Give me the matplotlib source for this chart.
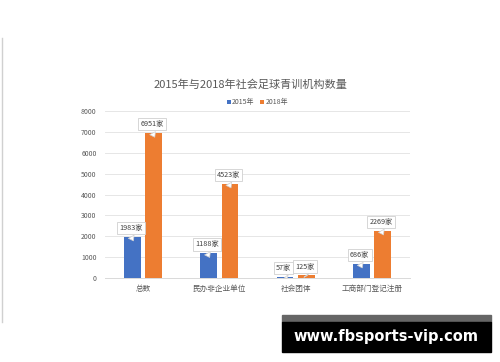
import matplotlib
matplotlib.use("Agg")
import matplotlib.pyplot as plt
from matplotlib.patches import Rectangle
from matplotlib.lines import Line2D

plt.rcParams['font.family'] = ['Noto Sans CJK SC', 'DejaVu Sans']

categories = ["总数", "民办非企业单位", "社会团体", "工商部门登记注册"]
v2015 = [1983, 1188, 57, 686]
v2018 = [6951, 4523, 125, 2269]
series_names = ["2015年", "2018年"]
title = "2015年与2018年社会足球青训机构数量"

blue = "#4472c4"
orange = "#ed7d31"

fig = plt.figure(figsize=(5, 3.62), dpi=100)
ax = fig.add_axes([0.21, 0.232, 0.61, 0.461])

w = 0.22
gap = 0.03
x = list(range(len(categories)))
xb = [i - w / 2 - gap for i in x]
xo = [i + w / 2 + gap for i in x]
ax.bar(xb, v2015, width=w, color=blue, label=series_names[0], zorder=3)
ax.bar(xo, v2018, width=w, color=orange, label=series_names[1], zorder=3)

ax.set_xlim(-0.5, 3.5)
ax.set_ylim(0, 8000)
ax.set_yticks(range(0, 8001, 1000))
ax.set_xticks(x)
ax.set_xticklabels(categories)
ax.tick_params(axis='both', length=0, labelsize=5, colors='#595959')
ax.tick_params(axis='x', pad=5, labelsize=5.5)
ax.tick_params(axis='y', pad=6)
ax.grid(axis='y', color='#e6e6e6', linewidth=0.7, zorder=0)
for s in ['top', 'right', 'left']:
    ax.spines[s].set_visible(False)
ax.spines['bottom'].set_color('#d9d9d9')
ax.spines['bottom'].set_linewidth(0.7)

# callout labels, box just above the bar, pointer tip a little inside the bar
for xs, vals in [(xb, v2015), (xo, v2018)]:
    for xi, v in zip(xs, vals):
        tip = max(v - 320, 0)
        ax.annotate(f"{v}家", xy=(xi + 0.03, tip), xytext=(xi - 0.02, v + 230), textcoords='data',
                    ha='center', va='bottom', fontsize=5.2, color='#404040', zorder=5,
                    bbox=dict(boxstyle='square,pad=0.3', fc='white', ec='#d0d0d0', lw=0.6),
                    arrowprops=dict(arrowstyle='wedge,tail_width=0.9,shrink_factor=0.5',
                                    fc='white', ec='#d0d0d0', lw=0.5,
                                    connectionstyle='arc3', relpos=(0.4, 0.0)))

fig.text(0.5, 0.765, title, ha='center', va='center', fontsize=8, color='#595959')
ax.legend(loc='lower center', bbox_to_anchor=(0.5, 1.0), ncol=2, frameon=False,
          fontsize=5, handlelength=0.6, handleheight=0.6, handletextpad=0.2,
          columnspacing=0.8, labelcolor='#595959', borderaxespad=0.3)

# left frame line
fig.add_artist(Line2D([0.003, 0.003], [1 - 38 / 362, 1 - 322 / 362], color='#d0d0d0', lw=1))

# watermark
fig.add_artist(Rectangle((282 / 500, 1 - 322 / 362), 209 / 500, 7 / 362,
                         transform=fig.transFigure, color='#666666'))
fig.add_artist(Rectangle((282 / 500, 1 - 352 / 362), 209 / 500, 30 / 362,
                         transform=fig.transFigure, color='black'))
fig.text(386 / 500, 1 - 337 / 362, "www.fbsports-vip.com", ha='center', va='center',
         fontsize=10.5, fontweight='bold', color='white', family='DejaVu Sans')

fig.savefig('out.png', dpi=100)
